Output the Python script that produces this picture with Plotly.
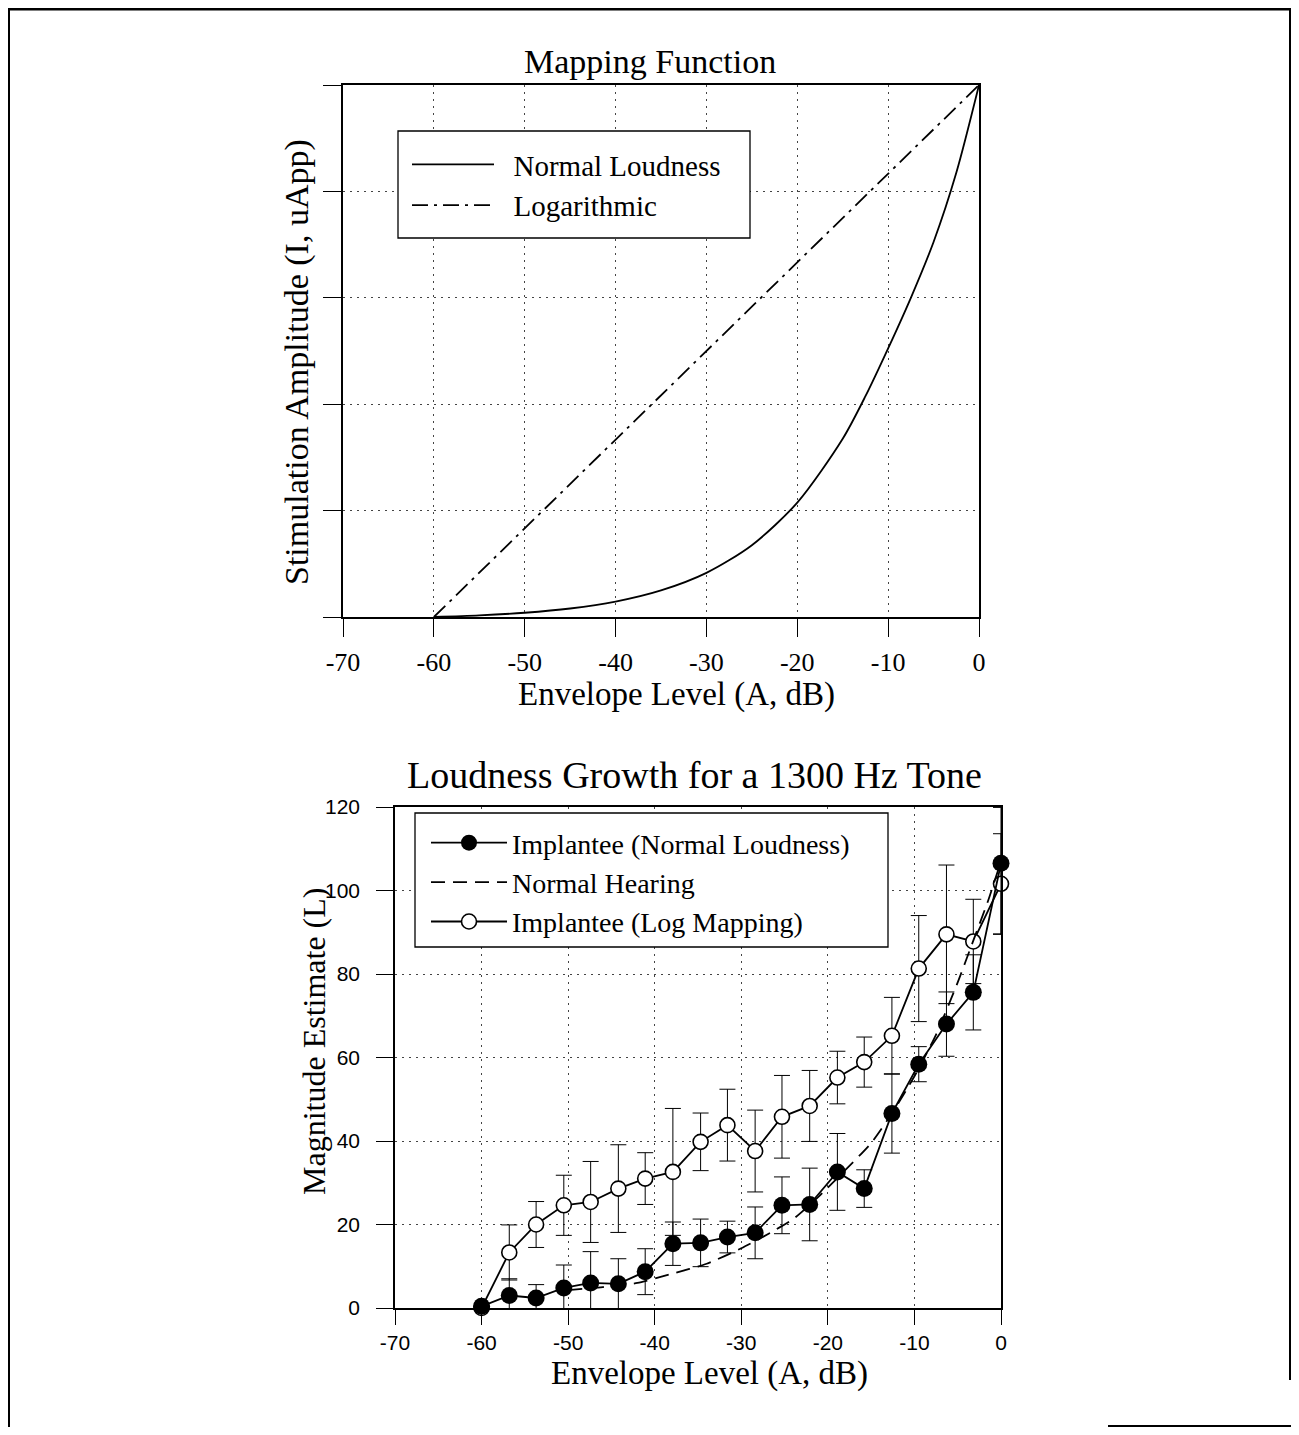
import plotly.graph_objects as go

# reference picture size (the figure fills the viewport inside the 8px body margin)
PAGE_W, PAGE_H = 1299, 1435
BODY_MARGIN = 8
W, H = PAGE_W - 2 * BODY_MARGIN, PAGE_H - 2 * BODY_MARGIN

# ---------------- Top panel: Mapping Function ----------------
map_normal_x = [-60, -55, -50, -45, -40, -35, -30, -25, -20, -15, -12.5, -10, -7.5, -5, -2.5, 0]
map_normal_y = [0, 0.003, 0.008, 0.016, 0.029, 0.05, 0.083, 0.135, 0.215, 0.335, 0.415, 0.505, 0.6, 0.705, 0.835, 1.0]
map_log_x = [-60, 0]
map_log_y = [0, 1.0]
top_x_ticks = [-70, -60, -50, -40, -30, -20, -10, 0]
top_x_labels = ["-70", "-60", "-50", "-40", "-30", "-20", "-10", "0"]
top_y_ticks = [0, 0.2, 0.4, 0.6, 0.8, 1.0]

# ---------------- Bottom panel: Loudness Growth ----------------
levels = [-60, -56.8, -53.7, -50.5, -47.4, -44.2, -41.1, -37.9, -34.7, -31.6,
          -28.4, -25.3, -22.1, -18.9, -15.8, -12.6, -9.5, -6.3, -3.2, 0]
implantee_normal = [0.4, 3.0, 2.4, 4.8, 6.0, 5.8, 8.7, 15.4, 15.6, 17.0,
                    18.0, 24.6, 24.8, 32.6, 28.6, 46.6, 58.4, 68.0, 75.6, 106.5]
implantee_normal_sd_up = [0, 4.0, 3.2, 5.5, 7.5, 6.0, 5.5, 5.2, 5.7, 3.8,
                          6.2, 6.8, 8.7, 9.2, 4.5, 9.5, 4.2, 7.7, 9.0, 13.4]
implantee_normal_sd_down = [0, 4.0, 3.2, 5.5, 7.5, 6.0, 5.5, 5.2, 5.7, 3.8,
                            6.2, 6.8, 8.7, 9.2, 4.5, 9.5, 4.2, 7.7, 9.0, 17.0]
implantee_log = [0, 13.3, 20.0, 24.6, 25.4, 28.6, 31.0, 32.6, 39.8, 43.8,
                 37.6, 45.8, 48.4, 55.2, 58.9, 65.2, 81.3, 89.5, 87.8, 101.6]
implantee_log_sd = [0, 6.6, 5.5, 7.2, 9.7, 10.5, 6.2, 15.2, 6.9, 8.6,
                    9.8, 9.9, 8.5, 6.3, 6.0, 9.2, 12.7, 16.6, 10.1, 12.0]
hearing_x = [-50, -46, -42, -38, -34, -30, -27, -24, -21, -18, -15, -12.6, -10, -7.5, -5, -3.2, -1.5, 0]
hearing_y = [4.3, 5.0, 6.0, 8.2, 10.6, 14.3, 17.6, 21.3, 26.8, 33.0, 39.5, 46.6, 55.5, 65.5, 78.0, 88.0, 97.5, 107]
bottom_x_ticks = [-70, -60, -50, -40, -30, -20, -10, 0]
bottom_x_labels = ["-70", "-60", "-50", "-40", "-30", "-20", "-10", "0"]
bottom_y_ticks = [0, 20, 40, 60, 80, 100, 120]


def px(x):
    """reference pixel x -> paper fraction"""
    return (x - BODY_MARGIN) / W


def py(y):
    """reference pixel y -> paper fraction"""
    return 1 - (y - BODY_MARGIN) / H


SERIF = "Liberation Serif"
SANS = "Liberation Sans"
NB = "\u00a0\u00a0"

fig = go.Figure()

fig.add_trace(go.Scatter(
    x=map_normal_x, y=map_normal_y, mode="lines", name=NB + "Normal Loudness",
    line=dict(color="black", width=1.8, shape="spline", smoothing=0.8),
    xaxis="x", yaxis="y", legend="legend"))
fig.add_trace(go.Scatter(
    x=map_log_x, y=map_log_y, mode="lines", name=NB + "Logarithmic",
    line=dict(color="black", width=1.8, dash="16px,6px,3px,6px"),
    xaxis="x", yaxis="y", legend="legend"))

# open circles drawn first so the filled circles sit on top where they meet
fig.add_trace(go.Scatter(
    x=levels, y=implantee_log, mode="lines+markers",
    name="Implantee (Log Mapping)", legendrank=3,
    marker=dict(symbol="circle", size=15, color="white",
                line=dict(color="black", width=1.6)),
    line=dict(color="black", width=1.8),
    error_y=dict(type="data", array=implantee_log_sd,
                 color="black", thickness=1, width=8),
    cliponaxis=False, xaxis="x2", yaxis="y2", legend="legend2"))
fig.add_trace(go.Scatter(
    x=hearing_x, y=hearing_y, mode="lines", name="Normal Hearing", legendrank=2,
    line=dict(color="black", width=1.8, dash="14px,8px", shape="spline", smoothing=0.6),
    xaxis="x2", yaxis="y2", legend="legend2"))
fig.add_trace(go.Scatter(
    x=levels, y=implantee_normal, mode="lines+markers",
    name="Implantee (Normal Loudness)", legendrank=1,
    marker=dict(symbol="circle", size=17, color="black"),
    line=dict(color="black", width=1.8),
    error_y=dict(type="data", symmetric=False, array=implantee_normal_sd_up,
                 arrayminus=implantee_normal_sd_down,
                 color="black", thickness=1, width=8),
    cliponaxis=False, xaxis="x2", yaxis="y2", legend="legend2"))

axis_common = dict(
    showline=True, linecolor="black", linewidth=1.5, mirror=True,
    ticks="outside", tickwidth=1.2, tickcolor="black",
    showgrid=True, gridcolor="#444", gridwidth=1, griddash="2px,5px",
    zeroline=False,
)

fig.update_layout(
    autosize=True,
    margin=dict(l=0, r=0, t=0, b=0, autoexpand=False),
    paper_bgcolor="white", plot_bgcolor="white",
    xaxis=dict(domain=[px(343), px(979)], range=[-70, 0],
               tickvals=top_x_ticks, ticktext=top_x_labels, ticklen=18,
               ticklabelstandoff=3,
               tickfont=dict(family=SERIF, size=26, color="black"),
               anchor="y", **axis_common),
    yaxis=dict(domain=[py(617), py(85)], range=[0, 1], tickvals=top_y_ticks,
               ticklen=18, showticklabels=False, anchor="x", **axis_common),
    xaxis2=dict(domain=[px(395), px(1001)], range=[-70, 0],
                tickvals=bottom_x_ticks, ticktext=bottom_x_labels, ticklen=15,
                ticklabelstandoff=0,
                tickfont=dict(family=SANS, size=21, color="black"),
                anchor="y2", **axis_common),
    yaxis2=dict(domain=[py(1308), py(807)], range=[0, 120],
                tickvals=bottom_y_ticks, ticklen=17, ticklabelstandoff=12,
                tickfont=dict(family=SANS, size=21, color="black"),
                anchor="x2", **axis_common),
    legend=dict(x=px(407), y=py(139), xanchor="left", yanchor="top",
                borderwidth=0, bgcolor="rgba(0,0,0,0)",
                font=dict(family=SERIF, size=29, color="black"),
                itemwidth=82, tracegroupgap=0),
    legend2=dict(x=px(426), y=py(818), xanchor="left", yanchor="top",
                 borderwidth=0, bgcolor="rgba(0,0,0,0)",
                 font=dict(family=SERIF, size=28, color="black"),
                 itemwidth=76, tracegroupgap=0, traceorder="normal"),
    showlegend=True,
)

# legend frames (white boxes hiding the grid, as in the reference)
for (x0, y0, x1, y1) in [(398, 131, 750, 238), (415, 813, 888, 947)]:
    fig.add_shape(type="rect", xref="paper", yref="paper", layer="above",
                  x0=px(x0), x1=px(x1), y0=py(y0), y1=py(y1),
                  fillcolor="white", line=dict(color="black", width=1.3))

annotations = [
    dict(text="Mapping Function", x=650, y=61, size=34),
    dict(text="Envelope Level (A, dB)", x=676, y=695, size=33),
    dict(text="Stimulation Amplitude (I, uApp)", x=297, y=362, size=34, angle=-90),
    dict(text="Loudness Growth for a 1300 Hz Tone", x=694, y=775, size=38),
    dict(text="Envelope Level (A, dB)", x=709, y=1373, size=33),
    dict(text="Magnitude Estimate (L)", x=314, y=1042, size=32, angle=-90),
]
for a in annotations:
    fig.add_annotation(
        text=a["text"], x=px(a["x"]), y=py(a["y"]), xref="paper", yref="paper",
        xanchor="center", yanchor="middle", showarrow=False,
        textangle=a.get("angle", 0),
        font=dict(family=SERIF, size=a["size"], color="black"))

# page frame
frame = [
    dict(x0=8, x1=PAGE_W, y0=9, y1=9, w=3),
    dict(x0=9, x1=9, y0=8, y1=PAGE_H, w=2),
    dict(x0=1290, x1=1290, y0=8, y1=1380, w=2),
    dict(x0=1108, x1=PAGE_W, y0=1426, y1=1426, w=2),
]
for f in frame:
    fig.add_shape(type="line", xref="paper", yref="paper",
                  x0=px(f["x0"]), x1=px(f["x1"]), y0=py(f["y0"]), y1=py(f["y1"]),
                  line=dict(color="black", width=f["w"]))

fig.write_html("out.html", config={"displayModeBar": False},
               default_width="calc(100vw - 16px)",
               default_height="calc(100vh - 16px)")
